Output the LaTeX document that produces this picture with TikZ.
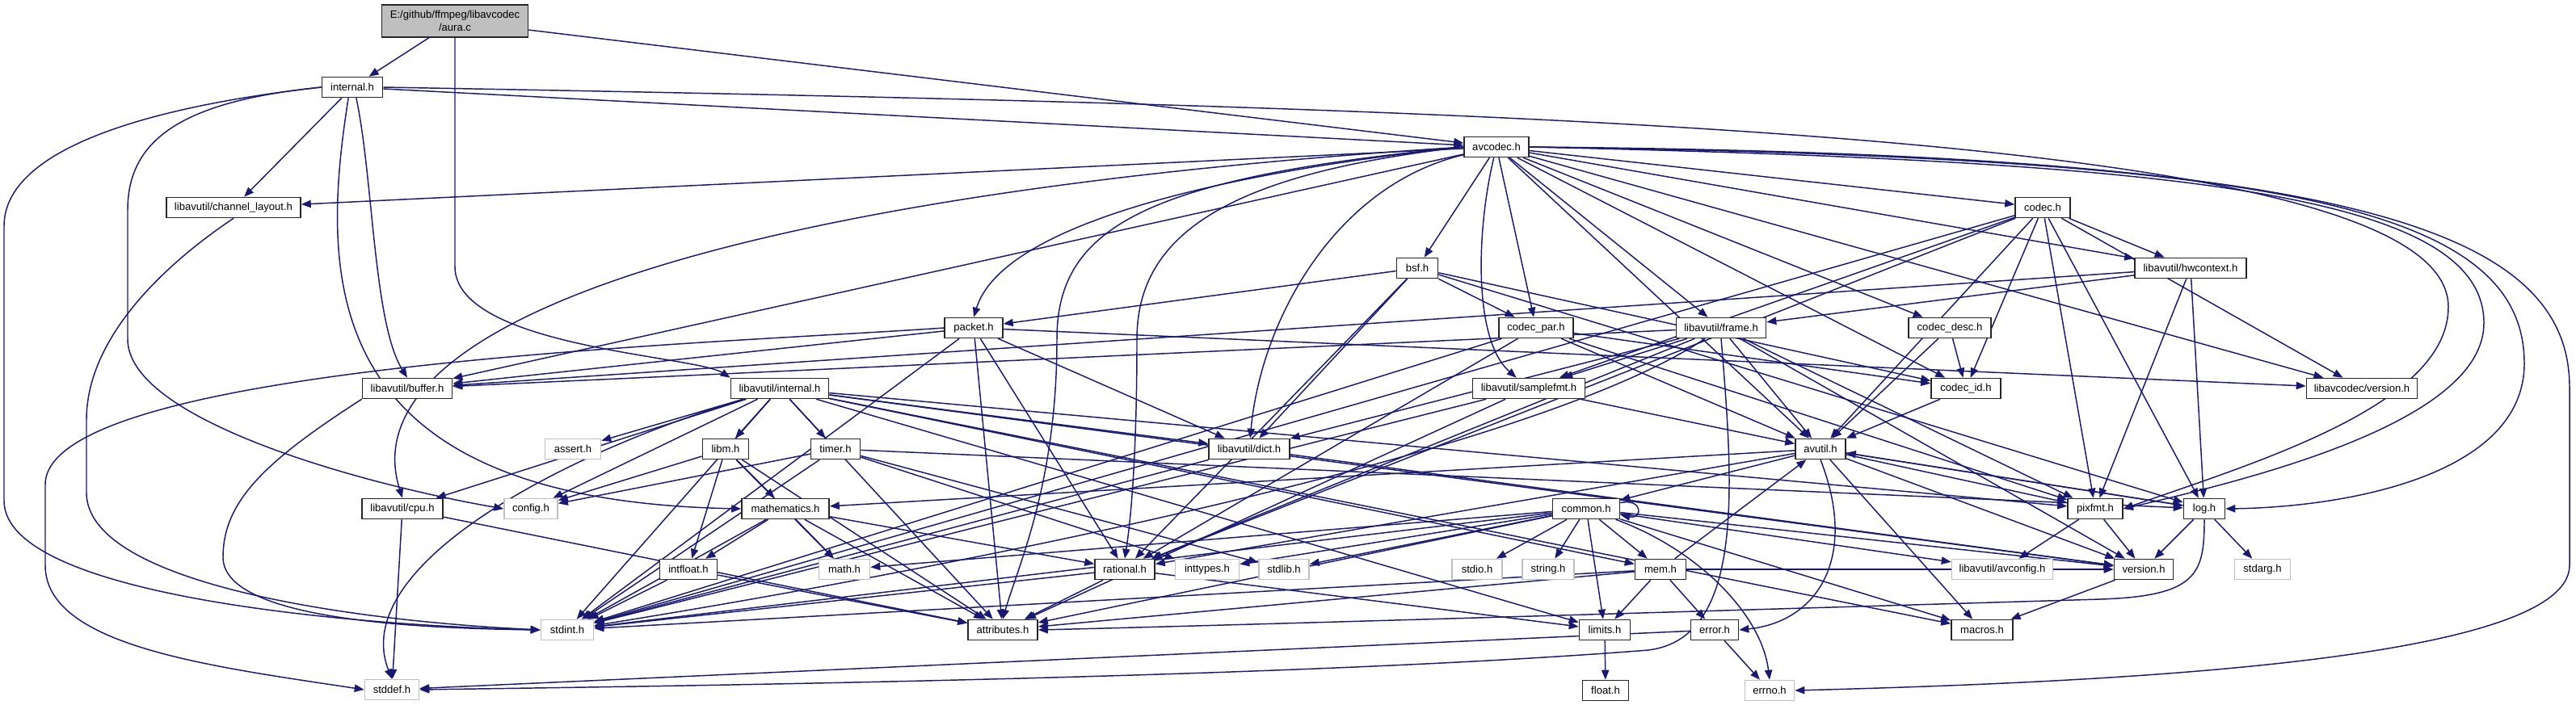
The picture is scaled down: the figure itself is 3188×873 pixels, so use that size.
\documentclass[tikz,border=0pt]{standalone}
\usepackage{fontspec}
\setmainfont{Liberation Sans}
\usepackage{tikz}
\usetikzlibrary{arrows.meta,positioning,backgrounds}
\definecolor{doxblu}{RGB}{25,25,112}
\definecolor{doxgrigio}{RGB}{191,191,191}
\newcommand{\hfont}{\fontsize{9.8pt}{11.5pt}\selectfont}

\begin{document}
\begin{tikzpicture}[
    x=0.75pt, y=-0.75pt,
    hdr/.style={rectangle, draw=black!85, fill=white, line width=1.2pt, minimum height=18.75pt, inner sep=1pt, font=\hfont},
    sysbox/.style={hdr, draw=doxgrigio},
    rootbox/.style={hdr, fill=doxgrigio, align=center},
    wd/.style={minimum width={0.75pt*#1}},
    dep/.style={draw=doxblu, line width=1.1pt, -{Triangle[length=9pt,width=7pt]}}
]

\useasboundingbox (0,0) rectangle (3188,873);

% File di partenza
\node[rootbox, wd=181, minimum height=30pt] (aura) at (563,26) {E:/github/ffmpeg/libavcodec\\/aura.c};

% libavcodec
\node[hdr, wd=75] (intl) at (436,108) {internal.h};
\node[hdr, wd=166] (chlay) at (289,257) {libavutil/channel\_layout.h};
\node[hdr, wd=80] (avcodec) at (1852,182) {avcodec.h};
\node[hdr, wd=72] (packet) at (1205,406) {packet.h};
\node[hdr, wd=51] (bsf) at (1754,332) {bsf.h};
\node[hdr, wd=92] (codecpar) at (1901,406) {codec\_par.h};
\node[hdr, wd=111] (frame) at (2130,406) {libavutil/frame.h};
\node[hdr, wd=68] (codec) at (2528,257) {codec.h};
\node[hdr, wd=138] (hwctx) at (2711,332) {libavutil/hwcontext.h};
\node[hdr, wd=102] (cdesc) at (2413,406) {codec\_desc.h};
\node[hdr, wd=86] (codecid) at (2433,481) {codec\_id.h};
\node[hdr, wd=137] (lcver) at (2923,481) {libavcodec/version.h};

% libavutil
\node[hdr, wd=111] (buffer) at (504,481) {libavutil/buffer.h};
\node[hdr, wd=121] (uintl) at (965,481) {libavutil/internal.h};
\node[hdr, wd=139] (sfmt) at (1892,481) {libavutil/samplefmt.h};
\node[hdr, wd=57] (libm) at (898,556) {libm.h};
\node[hdr, wd=61] (timer) at (1034,556) {timer.h};
\node[hdr, wd=100] (dict) at (1546,556) {libavutil/dict.h};
\node[hdr, wd=62] (avutil) at (2253,556) {avutil.h};
\node[hdr, wd=100] (cpu) at (498,630) {libavutil/cpu.h};
\node[hdr, wd=108] (mathem) at (972,630) {mathematics.h};
\node[hdr, wd=83] (common) at (1963,630) {common.h};
\node[hdr, wd=68] (pixfmt) at (2593,630) {pixfmt.h};
\node[hdr, wd=51] (log) at (2728,630) {log.h};
\node[hdr, wd=71] (intfloat) at (852,705) {intfloat.h};
\node[hdr, wd=74] (rational) at (1392,705) {rational.h};
\node[hdr, wd=63] (mem) at (2055,705) {mem.h};
\node[hdr, wd=73] (version) at (2653,705) {version.h};
\node[hdr, wd=86] (attr) at (1241,780) {attributes.h};
\node[hdr, wd=63] (limits) at (1986,780) {limits.h};
\node[hdr, wd=59] (error) at (2122,780) {error.h};
\node[hdr, wd=76] (macros) at (2453,780) {macros.h};
\node[hdr, wd=57] (floath) at (1987,855) {float.h};

% header di sistema
\node[sysbox, wd=69] (assert) at (709,556) {assert.h};
\node[sysbox, wd=66] (config) at (657,630) {config.h};
\node[sysbox, wd=65] (stdint) at (702,780) {stdint.h};
\node[sysbox, wd=67] (stddef) at (485,854) {stddef.h};
\node[sysbox, wd=63] (math) at (1045,705) {math.h};
\node[sysbox, wd=79] (inttypes) at (1494,705) {inttypes.h};
\node[sysbox, wd=62] (stdlib) at (1589,705) {stdlib.h};
\node[sysbox, wd=62] (stdio) at (1828,705) {stdio.h};
\node[sysbox, wd=64] (string) at (1916,705) {string.h};
\node[sysbox, wd=61] (errno) at (2190,855) {errno.h};
\node[sysbox, wd=125] (avconfig) at (2478,705) {libavutil/avconfig.h};
\node[sysbox, wd=69] (stdarg) at (2800,705) {stdarg.h};

\begin{scope}[on background layer]
% aura.c
\draw[dep] (aura) -- (intl);
\draw[dep] (aura) -- (avcodec);
\draw[dep] (aura.south) -- (563,330) .. controls (563,430) and (860,440) .. (uintl.north west);

% internal.h
\draw[dep] (intl) -- (avcodec);
\draw[dep] (intl) -- (chlay);
\draw[dep] (intl.290) .. controls (462,220) and (462,400) .. (buffer.north);
\draw[dep] (intl.250) .. controls (395,350) and (395,620) .. (mathem.west);
\draw[dep] (intl.west) .. controls (230,125) and (158,170) .. (158,260) -- (158,420) .. controls (158,520) and (450,600) .. (config.west);
\draw[dep] (intl.west) .. controls (200,130) and (5,180) .. (5,280) -- (5,620) .. controls (5,740) and (450,775) .. (stdint.west);
\draw[dep] (intl.east) .. controls (2000,135) and (3030,170) .. (3030,380) .. controls (3030,500) and (2800,570) .. (pixfmt.east);

% avcodec.h
\draw[dep] (avcodec) -- (chlay);
\draw[dep] (avcodec) -- (buffer);
\draw[dep] (avcodec.west) .. controls (900,240) and (430,400) .. (cpu.north);
\draw[dep] (avcodec.west) .. controls (1500,215) and (1240,280) .. (packet.north);
\draw[dep] (avcodec.west) .. controls (1420,220) and (1308,280) .. (1308,420) .. controls (1308,600) and (1260,700) .. (attr.north);
\draw[dep] (avcodec.west) .. controls (1520,215) and (1407,290) .. (1407,420) .. controls (1407,560) and (1400,640) .. (rational.north);
\draw[dep] (avcodec) .. controls (1650,230) and (1560,400) .. (dict);
\draw[dep] (avcodec) -- (bsf);
\draw[dep] (avcodec) .. controls (1828,280) and (1822,420) .. (sfmt);
\draw[dep] (avcodec) -- (codecpar);
\draw[dep] (avcodec) -- (frame);
\draw[dep] (avcodec) -- (avutil);
\draw[dep] (avcodec) -- (codecid);
\draw[dep] (avcodec) -- (cdesc);
\draw[dep] (avcodec) -- (codec);
\draw[dep] (avcodec) -- (hwctx);
\draw[dep] (avcodec) -- (lcver);
\draw[dep] (avcodec.east) .. controls (2700,200) and (3074,240) .. (3074,400) .. controls (3074,520) and (2800,590) .. (pixfmt.east);
\draw[dep] (avcodec.east) .. controls (2800,195) and (3124,250) .. (3124,450) .. controls (3124,590) and (2900,628) .. (log.east);
\draw[dep] (avcodec.east) .. controls (2900,190) and (3180,280) .. (3180,480) -- (3180,700) .. controls (3180,820) and (2600,845) .. (errno.east);

% bsf.h
\draw[dep] (bsf) -- (packet);
\draw[dep] (bsf) -- (codecpar);
\draw[dep] (bsf) -- (dict);
\draw[dep] (bsf) -- (rational);
\draw[dep] (bsf) -- (codecid);
\draw[dep] (bsf) -- (log);

% codec.h
\draw[dep] (codec) -- (stdint);
\draw[dep] (codec) -- (avutil);
\draw[dep] (codec) -- (hwctx);
\draw[dep] (codec) -- (log);
\draw[dep] (codec) -- (pixfmt);
\draw[dep] (codec) -- (rational);
\draw[dep] (codec) -- (sfmt);
\draw[dep] (codec) -- (codecid);
\draw[dep] (codec) -- (lcver);

% codec_desc.h, codec_id.h, codec_par.h
\draw[dep] (cdesc) -- (avutil);
\draw[dep] (cdesc) -- (codecid);
\draw[dep] (codecid) -- (avutil);
\draw[dep] (codecpar) -- (stdint);
\draw[dep] (codecpar) -- (avutil);
\draw[dep] (codecpar) -- (rational);
\draw[dep] (codecpar) -- (pixfmt);
\draw[dep] (codecpar) -- (codecid);

% packet.h
\draw[dep] (packet.west) .. controls (900,425) and (56,450) .. (56,600) -- (56,700) .. controls (56,800) and (260,825) .. (stddef.west);
\draw[dep] (packet) -- (stdint);
\draw[dep] (packet) -- (attr);
\draw[dep] (packet) -- (buffer);
\draw[dep] (packet) -- (dict);
\draw[dep] (packet) -- (rational);
\draw[dep] (packet) -- (lcver);

% frame.h
\draw[dep] (frame.south) .. controls (2145,600) and (2160,790) .. (2040,805) .. controls (1600,840) and (800,850) .. (stddef.east);
\draw[dep] (frame) .. controls (1900,560) and (1200,700) .. (stdint);
\draw[dep] (frame) -- (avutil);
\draw[dep] (frame) -- (buffer);
\draw[dep] (frame) -- (dict);
\draw[dep] (frame) -- (rational);
\draw[dep] (frame) -- (sfmt);
\draw[dep] (frame) -- (pixfmt);
\draw[dep] (frame) -- (version);

% hwcontext.h, samplefmt.h
\draw[dep] (hwctx) -- (buffer);
\draw[dep] (hwctx) -- (frame);
\draw[dep] (hwctx) -- (log);
\draw[dep] (hwctx) -- (pixfmt);
\draw[dep] (sfmt) -- (stdint);
\draw[dep] (sfmt) -- (avutil);
\draw[dep] (sfmt) -- (attr);

% avutil.h
\draw[dep] (avutil) -- (common);
\draw[dep] (avutil.south) .. controls (2300,690) and (2250,770) .. (error.east);
\draw[dep] (avutil) -- (rational);
\draw[dep] (avutil) -- (version);
\draw[dep] (avutil) -- (macros);
\draw[dep] (avutil) -- (mathem);
\draw[dep] (avutil) -- (log);
\draw[dep] (avutil) -- (pixfmt);

% common.h
\draw[dep] (common.-20) .. controls (2100,680) and (2180,760) .. (errno.north);
\draw[dep] (common) -- (inttypes);
\draw[dep] (common) -- (limits);
\draw[dep] (common) -- (math);
\draw[dep] (common) -- (stdint);
\draw[dep] (common) -- (stdio);
\draw[dep] (common) -- (stdlib);
\draw[dep] (common) -- (string);
\draw[dep] (common) -- (attr);
\draw[dep] (common) -- (macros);
\draw[dep] (common) -- (version);
\draw[dep] (common) -- (avconfig);
\draw[dep] (common) -- (mem);
\draw[dep] (common.10) .. controls +(28,-6) and +(28,6) .. (common.-10);

% mem.h, error.h, limits.h
\draw[dep] (mem) -- (limits);
\draw[dep] (mem) -- (stdint);
\draw[dep] (mem) -- (attr);
\draw[dep] (mem) -- (error);
\draw[dep] (mem) -- (avutil);
\draw[dep] (mem) -- (version);
\draw[dep] (error) -- (errno);
\draw[dep] (error) -- (stddef);
\draw[dep] (limits) -- (floath);

% log.h, pixfmt.h, version.h
\draw[dep] (log) -- (stdarg);
\draw[dep] (log) -- (avutil);
\draw[dep] (log.south) .. controls (2728,710) and (2720,738) .. (2600,742) .. controls (2000,760) and (1500,775) .. (attr.east);
\draw[dep] (log) -- (version);
\draw[dep] (pixfmt) -- (avconfig);
\draw[dep] (pixfmt) -- (version);
\draw[dep] (version) -- (macros);

% rational.h, mathematics.h, intfloat.h, dict.h
\draw[dep] (rational) -- (stdint);
\draw[dep] (rational) -- (limits);
\draw[dep] (rational) -- (attr);
\draw[dep] (mathem) -- (stdint);
\draw[dep] (mathem) -- (math);
\draw[dep] (mathem) -- (attr);
\draw[dep] (mathem) -- (rational);
\draw[dep] (mathem) -- (intfloat);
\draw[dep] (intfloat) -- (stdint);
\draw[dep] (intfloat) -- (attr);
\draw[dep] (dict) -- (stdint);
\draw[dep] (dict) -- (version);

% buffer.h, cpu.h, channel_layout.h
\draw[dep] (buffer.south west) .. controls (330,570) and (276,620) .. (276,690) .. controls (276,765) and (500,778) .. (stdint.west);
\draw[dep] (cpu) -- (attr);
\draw[dep] (cpu) -- (stddef);
\draw[dep] (chlay.south) .. controls (200,330) and (107,420) .. (107,520) -- (107,610) .. controls (107,720) and (420,768) .. (stdint.west);

% libavutil/internal.h
\draw[dep] (uintl) -- (limits);
\draw[dep] (uintl) -- (stdint);
\draw[dep] (uintl) .. controls (700,560) and (430,700) .. (stddef.north);
\draw[dep] (uintl) -- (assert);
\draw[dep] (uintl) -- (config);
\draw[dep] (uintl) -- (attr);
\draw[dep] (uintl) -- (timer);
\draw[dep] (uintl) -- (cpu);
\draw[dep] (uintl) -- (dict);
\draw[dep] (uintl) -- (macros);
\draw[dep] (uintl) -- (mem);
\draw[dep] (uintl) -- (pixfmt);
\draw[dep] (uintl) -- (version);
\draw[dep] (uintl) -- (libm);

% libm.h, timer.h
\draw[dep] (libm) -- (math);
\draw[dep] (libm) -- (config);
\draw[dep] (libm) -- (attr);
\draw[dep] (libm) -- (intfloat);
\draw[dep] (libm) -- (mathem);
\draw[dep] (timer) -- (stdlib);
\draw[dep] (timer) -- (stdint);
\draw[dep] (timer) -- (inttypes);
\draw[dep] (timer) -- (config);
\draw[dep] (timer) -- (log);
\end{scope}

\end{tikzpicture}
\end{document}
